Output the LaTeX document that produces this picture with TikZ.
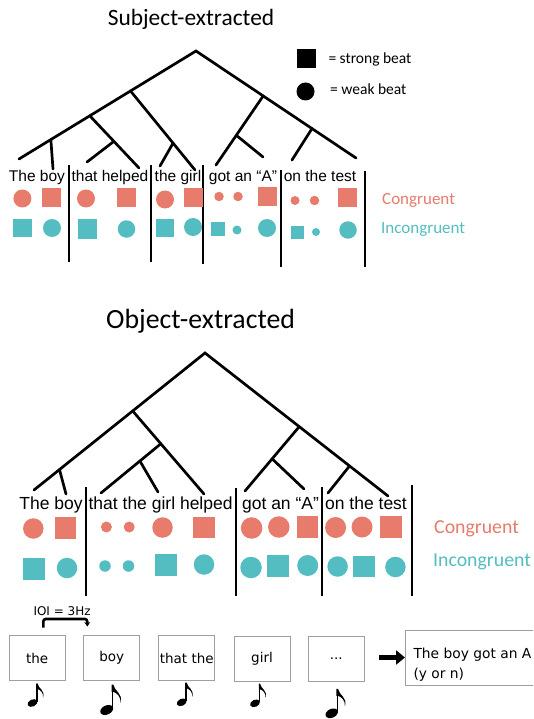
\documentclass[tikz,border=0pt]{standalone}
\usepackage{fontspec}
\setmainfont{Liberation Sans}
\newfontfamily\calib{Carlito}
\newfontfamily\dejav{DejaVu Sans}
\usetikzlibrary{calc,arrows.meta}
\definecolor{salm}{HTML}{E77B6C}
\definecolor{tealc}{HTML}{53BDC1}
\begin{document}
\begin{tikzpicture}[x=1pt,y=-1pt,
  treeln/.style={line width=2.7pt, line cap=round},
  sepln/.style={line width=1.8pt},
  circ/.style={circle, inner sep=0pt, outer sep=0pt, draw=none},
  sqr/.style={rectangle, inner sep=0pt, outer sep=0pt, draw=none},
  sentA/.style={anchor=base, inner sep=0pt, font=\fontsize{15.5}{18}\selectfont},
  sentB/.style={anchor=base, inner sep=0pt, font=\fontsize{17.5}{20}\selectfont},
  titl/.style={anchor=base, inner sep=0pt, font=\calib\fontsize{#1}{#1}\selectfont},
  lbl/.style={anchor=base west, inner sep=0pt, font=\calib\fontsize{#1}{#1}\selectfont},
  wordbox/.style={draw=gray!75, line width=0.8pt, minimum width=56pt, minimum height=45pt, inner sep=0pt, font=\dejav\fontsize{13.5}{15}\selectfont},
  bigarrow/.style={line width=4.5pt, -{Triangle[length=9pt,width=14pt]}},
  ioiarrow/.style={line width=2.6pt, rounded corners=2.5pt, -{Stealth[length=4.5pt,width=6pt]}},
  enote/.pic={
    \fill[rotate=25] (0,0) ellipse [x radius=5.2, y radius=3.5];
    \draw[line width=1.3pt] (4.4,-1) -- (4.4,-19);
    \fill (3.75,-19.6) -- (5.05,-19.6) .. controls (5.7,-14.5) and (12.8,-13) .. (10.6,-5.5)
      .. controls (10.9,-11) and (7.5,-13) .. (5.05,-14) -- (3.75,-14) -- cycle;
  }]
\useasboundingbox (0,0) rectangle (533,719);
\clip (0,0) rectangle (533,719);
\fill[white] (0,0) rectangle (533,719);

% ---------- Subject-extracted ----------
\node[titl=23.4] (title1) at (191,25.5) {Subject-extracted};

\coordinate (t1root) at (196,51);
\coordinate (t1L) at (19,159);
\coordinate (t1R) at (356,158);
\coordinate (t1a) at ($(t1root)!0.37!(t1L)$);
\coordinate (t1b) at ($(t1root)!0.6!(t1L)$);
\coordinate (t1c) at ($(t1root)!0.82!(t1L)$);
\coordinate (t1cE) at (53,169);
\coordinate (t1bE) at (139,168);
\coordinate (t1bm) at ($(t1b)!0.49!(t1bE)$);
\coordinate (t1bmE) at (87,162);
\coordinate (t1aE) at (195,170);
\coordinate (t1am) at ($(t1a)!0.66!(t1aE)$);
\coordinate (t1amE) at (160,166);
\coordinate (t1d) at ($(t1root)!0.42!(t1R)$);
\coordinate (t1dE) at (216,165);
\coordinate (t1dm) at ($(t1d)!0.57!(t1dE)$);
\coordinate (t1dmE) at (263,157);
\coordinate (t1e) at ($(t1root)!0.725!(t1R)$);
\coordinate (t1eE) at (292,160);

\draw[treeln] (t1L) -- (t1root) -- (t1R);
\draw[treeln] (t1c) -- (t1cE);
\draw[treeln] (t1b) -- (t1bE);
\draw[treeln] (t1bm) -- (t1bmE);
\draw[treeln] (t1a) -- (t1aE);
\draw[treeln] (t1am) -- (t1amE);
\draw[treeln] (t1d) -- (t1dE);
\draw[treeln] (t1dm) -- (t1dmE);
\draw[treeln] (t1e) -- (t1eE);

% legend
\node[sqr, fill=black, minimum size=19pt] (legsq) at (306.3,58.3) {};
\node[circ, fill=black, minimum size=18pt] (legci) at (305.5,91.5) {};
\node[lbl=15.5] (legsqt) at (328.3,63.5) {= strong beat};
\node[lbl=15.5] (legcit) at (330,94.5) {= weak beat};

% sentence
\node[sentA] (w1a) at (37,182) {The boy};
\node[sentA] (w1b) at (110,182) {that helped};
\node[sentA] (w1c) at (178,182) {the girl};
\node[sentA] (w1d) at (243,182) {got an “A”};
\node[sentA] (w1e) at (320,182) {on the test};

% separators
\foreach \x/\ya/\yb [count=\i] in {69/165/262, 151/165/262, 203/165/264, 281/170/267, 365/171/267}{
  \coordinate (s1t\i) at (\x,\ya);
  \coordinate (s1b\i) at (\x,\yb);
  \draw[sepln] (s1t\i) -- (s1b\i);
}

% congruent row
\foreach \x/\y/\sh/\sz [count=\i] in {22.4/198.5/circ/18, 51/197.5/sqr/19, 86/198.5/circ/18, 126.5/197.5/sqr/19,
  165/199.5/circ/18, 193/197.5/sqr/19, 219/196.5/circ/9.5, 238/196.5/circ/9.5, 267/197/sqr/19,
  295/200.5/circ/9, 314.5/200.5/circ/9.5, 347/198/sqr/19}{
  \node[\sh, fill=salm, minimum size=\sz pt] (c1\i) at (\x,\y) {};
}
% incongruent row
\foreach \x/\y/\sh/\sz [count=\i] in {22.4/228/sqr/18.5, 52/228/circ/18, 87/229/sqr/19, 126.5/229/circ/17.5,
  165/228/sqr/18.5, 193/227/circ/18, 218/229/sqr/13.3, 237/230/circ/9, 267/228/circ/18,
  297/232/sqr/13, 316/232/circ/8, 348/230/circ/17.5}{
  \node[\sh, fill=tealc, minimum size=\sz pt] (i1\i) at (\x,\y) {};
}
\node[lbl=17, text=salm] (cong1) at (382,205) {Congruent};
\node[lbl=17, text=tealc] (inc1) at (381,233.3) {Incongruent};

% ---------- Object-extracted ----------
\node[titl=27.8] (title2) at (200.6,328) {Object-extracted};

\coordinate (t2root) at (205,353);
\coordinate (t2L) at (34,490);
\coordinate (t2R) at (388,496);
\coordinate (t2a) at ($(t2root)!0.423!(t2L)$);
\coordinate (t2b) at ($(t2root)!0.851!(t2L)$);
\coordinate (t2bE) at (66,494);
\coordinate (t2aE) at (204,494);
\coordinate (t2am) at ($(t2a)!0.395!(t2aE)$);
\coordinate (t2amE) at (101,493);
\coordinate (t2amm) at ($(t2am)!0.35!(t2amE)$);
\coordinate (t2ammE) at (158,492);
\coordinate (t2c) at ($(t2root)!0.515!(t2R)$);
\coordinate (t2cE) at (245,491);
\coordinate (t2cm) at ($(t2c)!0.5!(t2cE)$);
\coordinate (t2cmE) at (304,489);
\coordinate (t2d) at ($(t2root)!0.79!(t2R)$);
\coordinate (t2dE) at (328,493);

\draw[treeln] (t2L) -- (t2root) -- (t2R);
\draw[treeln] (t2b) -- (t2bE);
\draw[treeln] (t2a) -- (t2aE);
\draw[treeln] (t2am) -- (t2amE);
\draw[treeln] (t2amm) -- (t2ammE);
\draw[treeln] (t2c) -- (t2cE);
\draw[treeln] (t2cm) -- (t2cmE);
\draw[treeln] (t2d) -- (t2dE);

\node[sentB] (w2a) at (51,509) {The boy};
\node[sentB] (w2b) at (160.6,509) {that the girl helped};
\node[sentB] (w2c) at (280.5,509) {got an “A”};
\node[sentB] (w2d) at (366,509) {on the test};

\foreach \x/\ya/\yb [count=\i] in {85.7/487/596, 235.6/488/596, 322.3/487/596, 412/485/596}{
  \coordinate (s2t\i) at (\x,\ya);
  \coordinate (s2b\i) at (\x,\yb);
  \draw[sepln] (s2t\i) -- (s2b\i);
}

\foreach \x/\y/\sh/\sz [count=\i] in {33.3/528.5/circ/20.5, 65.3/528/sqr/21.5, 106.4/527/circ/11, 129.2/527/circ/11,
  162.5/527.5/circ/20.5, 204/527.5/sqr/21.5, 251.6/528/circ/21.5, 278.8/527/circ/21.5, 307.7/527/sqr/21.5,
  335.6/527.5/circ/21, 362/527/circ/21, 391/527/sqr/21.5}{
  \node[\sh, fill=salm, minimum size=\sz pt] (c2\i) at (\x,\y) {};
}
\foreach \x/\y/\sh/\sz [count=\i] in {34/569/sqr/21.5, 67/568/circ/20.5, 105/566/circ/11.5, 128.5/566/circ/11.5,
  166/565/sqr/21.5, 204/564.5/circ/20.5, 251/567.5/circ/21.5, 278/566/sqr/21.5, 307.7/565.5/circ/21,
  337.6/566.5/circ/20.5, 363.8/566.5/sqr/21.5, 395.4/567/circ/20.5}{
  \node[\sh, fill=tealc, minimum size=\sz pt] (i2\i) at (\x,\y) {};
}
\node[lbl=19.8, text=salm] (cong2) at (434,533.3) {Congruent};
\node[lbl=19.8, text=tealc] (inc2) at (433,566) {Incongruent};

% ---------- Procedure ----------
\node[anchor=base west, inner sep=0pt, font=\dejav\fontsize{12}{14}\selectfont] (ioi) at (33.3,615) {IOI = 3Hz};

\node[wordbox] (bx1) at (37.2,658) {the};
\node[wordbox] (bx2) at (111.7,658) {boy};
\node[wordbox] (bx3) at (186.8,658) {that the};
\node[wordbox] (bx4) at (262,659) {girl};
\node[wordbox] (bx5) at (336.3,659) {...};

\coordinate (ioiA) at (43.3,627.5);
\coordinate (ioiB) at (87.3,626.5);
\draw[ioiarrow] (ioiA) -- ++(0,-8.5) -| (ioiB);

\node[draw=gray!75, line width=0.8pt, anchor=west, minimum width=160pt, minimum height=55pt, inner sep=0pt] (final) at (405,657.5) {};
\node[anchor=north west, align=left, inner sep=0pt, font=\dejav\fontsize{13.8}{20}\selectfont] (fintext) at (413.3,648) {The boy got an A\\(y or n)};

\coordinate (arrS) at (379,657.5);
\draw[bigarrow] (arrS) -- (final.west);

\pic (n1) at (32.5,703) {enote};
\pic[scale=1.3] (n2) at (106.7,710) {enote};
\pic (n3) at (181.7,702.3) {enote};
\pic (n4) at (255,703.3) {enote};
\pic[scale=1.25] (n5) at (331.7,713.3) {enote};
\end{tikzpicture}
\end{document}
